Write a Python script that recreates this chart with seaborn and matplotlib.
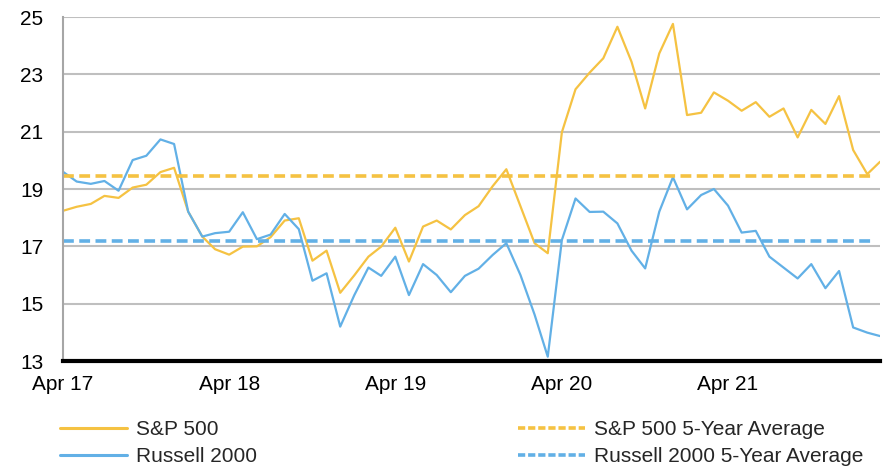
import pandas as pd
import seaborn as sns
import matplotlib.pyplot as plt
import matplotlib.dates as mdates
from matplotlib.lines import Line2D

# Monthly forward P/E, Apr 2017 - Mar 2022
months = pd.date_range("2017-04-01", "2022-03-01", freq="MS")

sp500 = [18.24, 18.38, 18.48, 18.76, 18.69, 19.05, 19.15, 19.59, 19.74, 18.21,
         17.34, 16.90, 16.71, 16.99, 17.00, 17.32, 17.90, 17.98, 16.50, 16.85,
         15.38, 15.99, 16.64, 16.99, 17.65, 16.47, 17.69, 17.90, 17.59, 18.09,
         18.40, 19.10, 19.69, 18.40, 17.11, 16.76, 20.98, 22.48, 23.06, 23.56,
         24.66, 23.44, 21.81, 23.73, 24.76, 21.58, 21.66, 22.37, 22.08, 21.73,
         22.03, 21.52, 21.81, 20.80, 21.76, 21.27, 22.24, 20.36, 19.52, 19.95]

russell = [19.60, 19.26, 19.18, 19.28, 18.94, 20.01, 20.16, 20.73, 20.57, 18.21,
           17.34, 17.46, 17.51, 18.19, 17.25, 17.41, 18.13, 17.60, 15.80, 16.06,
           14.20, 15.30, 16.26, 15.97, 16.64, 15.30, 16.38, 16.00, 15.40, 15.97,
           16.22, 16.70, 17.11, 16.00, 14.62, 13.15, 17.22, 18.67, 18.20, 18.21,
           17.80, 16.85, 16.23, 18.21, 19.41, 18.29, 18.79, 19.00, 18.42, 17.48,
           17.54, 16.64, 16.26, 15.88, 16.38, 15.54, 16.14, 14.17, 13.99, 13.87]

sp500_avg = 19.46
russell_avg = 17.20

labels = ["S&P 500", "Russell 2000", "S&P 500 5-Year Average", "Russell 2000 5-Year Average"]
gold = "#F5C242"
blue = "#62B0E6"

df = pd.DataFrame({"Month": months, "S&P 500": sp500, "Russell 2000": russell})

sns.set_style("white")
plt.rcParams["font.family"] = ["Liberation Sans", "DejaVu Sans"]

fig = plt.figure(figsize=(8.84, 4.66), dpi=100)
ax = fig.add_axes([0.0713, 0.2253, 0.9242, 0.7382])

sns.lineplot(data=df, x="Month", y="S&P 500", color=gold, linewidth=1.6, ax=ax)
sns.lineplot(data=df, x="Month", y="Russell 2000", color=blue, linewidth=1.6, ax=ax)
ax.axhline(sp500_avg, color=gold, linewidth=2.6, dashes=(3, 1.5), xmax=0.99)
ax.axhline(russell_avg, color=blue, linewidth=2.6, dashes=(3, 1.5), xmax=0.99)

ax.set_ylim(13, 25)
ax.set_yticks([13, 15, 17, 19, 21, 23, 25])
ax.set_xlim(months[0], months[-1])
ax.set_xticks(months[::12])
ax.xaxis.set_major_formatter(mdates.DateFormatter("Apr %y"))
ax.set_xlabel("")
ax.set_ylabel("")

ax.yaxis.grid(True, color="#BFBFBF", linewidth=1.5)
ax.set_axisbelow(True)
for s in ["top", "right"]:
    ax.spines[s].set_visible(False)
ax.spines["left"].set_color("#A6A6A6")
ax.spines["left"].set_linewidth(1.5)
ax.spines["bottom"].set_color("black")
ax.spines["bottom"].set_linewidth(3)
ax.tick_params(axis="both", length=0, labelsize=15, colors="black")
ax.tick_params(axis="y", pad=14)
ax.tick_params(axis="x", pad=10)

handles = [
    Line2D([], [], color=gold, linewidth=2.2),
    Line2D([], [], color=blue, linewidth=2.2),
    Line2D([], [], color=gold, linewidth=2.6, dashes=(2, 0.8)),
    Line2D([], [], color=blue, linewidth=2.6, dashes=(2, 0.8)),
]
fig.legend(handles, labels, loc="upper left", bbox_to_anchor=(0.0675, 0.0985),
           ncol=2, frameon=False, fontsize=15, handlelength=3.25,
           handletextpad=0.43, columnspacing=12.5, labelspacing=0.4,
           borderaxespad=0, borderpad=0)

fig.savefig("out.png", dpi=100)
